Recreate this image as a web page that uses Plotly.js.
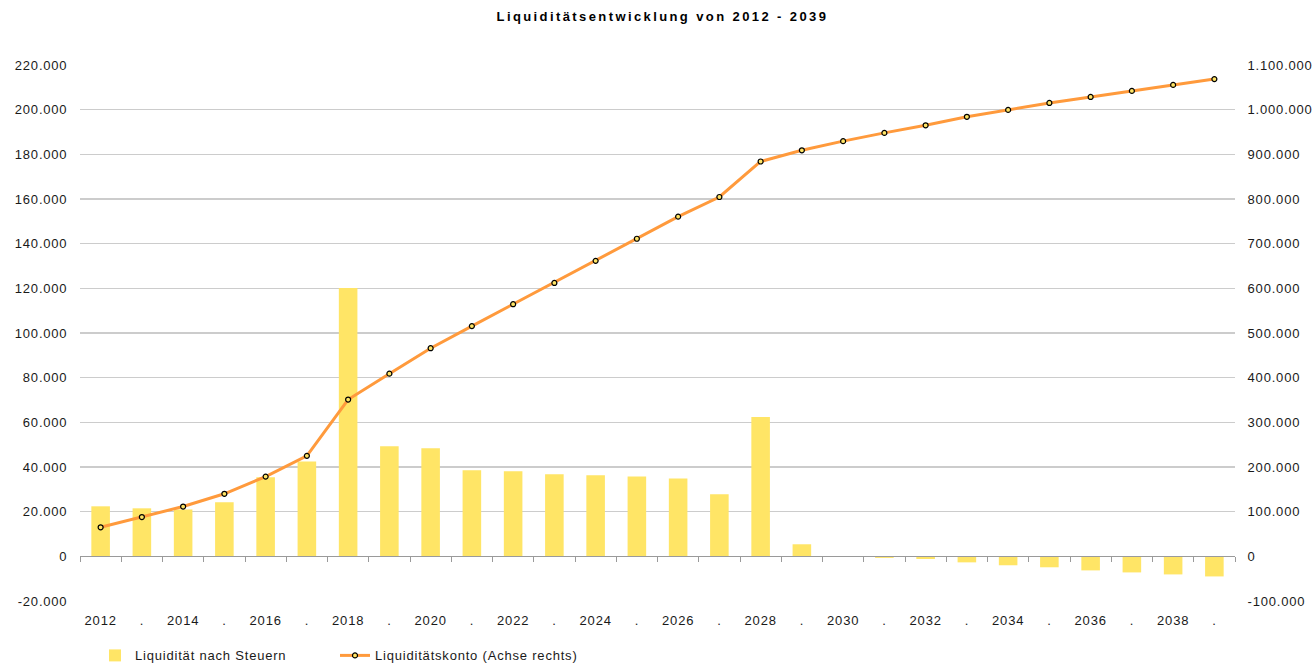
<!DOCTYPE html>
<html>
<head>
<meta charset="utf-8">
<script src="https://cdn.plot.ly/plotly-3.0.1.min.js"></script>
<style>
  html, body { margin: 0; padding: 0; background: #fff; }
  #chart { width: 1315px; height: 664px; }
  .xtick text, .ytick text, .y2tick text, .legendtext { letter-spacing: 0.8px; }
  .gtitle { letter-spacing: 2.4px; }
  .legend .scrollbox, .legend g[clip-path] { clip-path: none !important; }
</style>
</head>
<body>
<div id="chart"></div>
<script>
// ---- data ----
const years = ['2012','2013','2014','2015','2016','2017','2018','2019','2020','2021',
               '2022','2023','2024','2025','2026','2027','2028','2029','2030','2031',
               '2032','2033','2034','2035','2036','2037','2038','2039'];
const xTickLabels = ['2012','.','2014','.','2016','.','2018','.','2020','.',
                     '2022','.','2024','.','2026','.','2028','.','2030','.',
                     '2032','.','2034','.','2036','.','2038','.'];
const liquiditaetNachSteuern = [22400, 21500, 21000, 24200, 35400, 42500, 120200, 49300, 48400, 38500,
                                38100, 36700, 36300, 35800, 34900, 27800, 62400, 5400, -200, -700,
                                -1200, -2700, -4000, -4900, -6300, -7200, -8100, -9000];
const liquiditaetskonto = [65000, 88000, 111500, 140000, 178500, 225000, 351000, 409000, 466000, 515500,
                           564500, 612000, 661500, 711000, 760500, 804500, 884000, 909000, 929500, 948000,
                           965000, 984000, 999500, 1015000, 1028500, 1042000, 1055500, 1068500];
const leftTickVals = [-20000, 0, 20000, 40000, 60000, 80000, 100000, 120000, 140000, 160000, 180000, 200000, 220000];
const leftTickText = ['-20.000','0','20.000','40.000','60.000','80.000','100.000','120.000','140.000','160.000','180.000','200.000','220.000'];
const rightTickVals = [-100000, 0, 100000, 200000, 300000, 400000, 500000, 600000, 700000, 800000, 900000, 1000000, 1100000];
const rightTickText = ['-100.000','0','100.000','200.000','300.000','400.000','500.000','600.000','700.000','800.000','900.000','1.000.000','1.100.000'];
const seriesNames = ['Liquidität nach Steuern', 'Liquiditätskonto (Achse rechts)'];
const chartTitle = 'Liquiditätsentwicklung von 2012 - 2039';

// ---- chart ----
const font = { family: 'Liberation Sans, Arial, sans-serif', size: 13, color: '#1a1a1a' };

const traces = [
  {
    type: 'bar', x: years, y: liquiditaetNachSteuern, name: seriesNames[0],
    marker: { color: '#FFE566', line: { width: 0 } },
    yaxis: 'y'
  },
  {
    type: 'scatter', mode: 'lines+markers', x: years, y: liquiditaetskonto, name: seriesNames[1],
    line: { color: '#FF9A3C', width: 3 },
    marker: { color: '#FFE566', size: 5, line: { color: '#000', width: 1.2 } },
    yaxis: 'y2'
  }
];

const layout = {
  width: 1315, height: 664,
  margin: { l: 80, r: 80, t: 65, b: 63, autoexpand: false },
  paper_bgcolor: '#fff', plot_bgcolor: '#fff',
  font: font,
  title: {
    text: '<b>' + chartTitle + '</b>',
    font: { family: 'Liberation Sans, Arial, sans-serif', size: 13, color: '#000' },
    x: 0.5043, xanchor: 'center', xref: 'paper',
    y: 1 - 16 / 664, yanchor: 'middle', yref: 'container'
  },
  bargap: 0.55,
  showlegend: true,
  legend: {
    orientation: 'h', x: 15 / 1155, xanchor: 'left', y: -0.0736, yanchor: 'top',
    entrywidth: 195, entrywidthmode: 'pixels',
    font: { family: 'Liberation Sans, Arial, sans-serif', size: 13, color: '#1a1a1a' },
    traceorder: 'normal', itemwidth: 30, bgcolor: 'rgba(0,0,0,0)'
  },
  xaxis: {
    type: 'category',
    range: [-0.5, 27.5],
    tickvals: years, ticktext: xTickLabels,
    tickson: 'boundaries',
    ticks: 'outside', ticklen: 5, tickcolor: '#9a9a9a', tickwidth: 1,
    showline: true, linecolor: '#9a9a9a', linewidth: 1,
    showgrid: false, zeroline: false,
    anchor: 'free', position: 20000 / 240000,
    ticklabelstandoff: 52,
    tickfont: font,
    automargin: false, fixedrange: true
  },
  yaxis: {
    range: [-20000, 220000],
    tickvals: leftTickVals, ticktext: leftTickText,
    showgrid: true, gridcolor: '#cccccc', gridwidth: 1.5,
    zeroline: false, showline: false,
    ticks: 'outside', ticklen: 9, tickcolor: 'rgba(0,0,0,0)',
    tickfont: font, automargin: false, fixedrange: true
  },
  yaxis2: {
    range: [-100000, 1100000],
    tickvals: rightTickVals, ticktext: rightTickText,
    overlaying: 'y', side: 'right', anchor: 'x',
    showgrid: false, zeroline: false, showline: false,
    ticks: 'outside', ticklen: 9, tickcolor: 'rgba(0,0,0,0)',
    tickfont: font, automargin: false, fixedrange: true
  }
};

Plotly.newPlot('chart', traces, layout, { displayModeBar: false, staticPlot: true });
</script>
</body>
</html>
